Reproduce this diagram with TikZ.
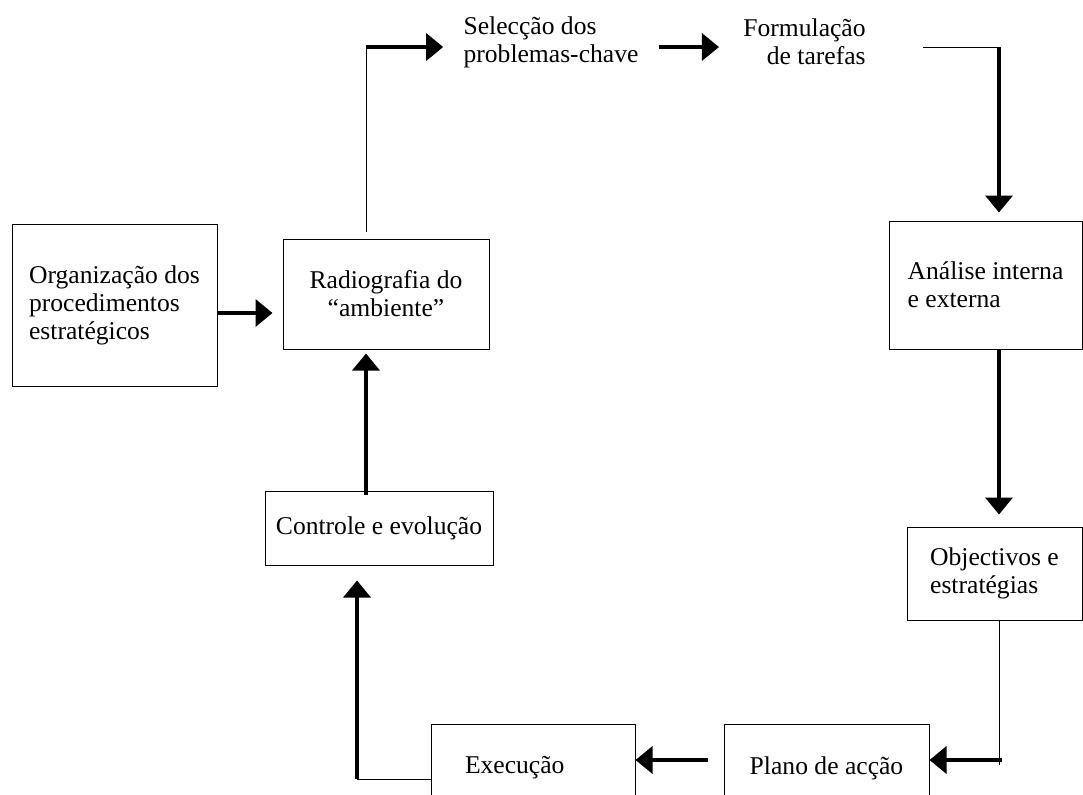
\documentclass[tikz,border=0pt]{standalone}
\usepackage{fontspec}
\setmainfont{Liberation Serif}
\usepackage{tikz}
\usetikzlibrary{arrows.meta}

\begin{document}
\begin{tikzpicture}[x=0.5pt,y=-0.5pt,
  every node/.style={font=\fontsize{12.8}{14}\selectfont},
  box/.style={draw,line width=0.5pt,inner sep=0pt,align=center},
  link/.style={line width=0.5pt},
  arr/.style={line width=1.8pt,-{Triangle[width=13.5pt,length=8.5pt]}}]
\useasboundingbox (0,0) rectangle (1083,794);
\clip (0,0) rectangle (1083,794);

% caixas
\node[box,align=left,minimum width=102.5pt,minimum height=81pt] (org) at (114.5,305) {Organização dos\\procedimentos\\estratégicos};
\node[box,minimum width=103pt,minimum height=55pt] (rad) at (386,294) {Radiografia do\\“ambiente”};
\node[box,align=left,minimum width=96.5pt,minimum height=64pt] (ana) at (985.5,285) {Análise interna\\e externa};
\node[box,align=left,minimum width=87.5pt,minimum height=46.5pt] (obj) at (994.5,573.5) {Objectivos e\\estratégias};
\node[box,minimum width=102.5pt,minimum height=44pt] (pla) at (826.5,768) {Plano de acção};
\node[box,align=left,text width=68pt,inner xsep=17pt,minimum height=44pt] (exe) at (533,768) {Execução};
\node[box,minimum width=114pt,minimum height=37pt] (con) at (379,528) {Controle e evolução};

% textos soltos
\node[align=left,inner xsep=10pt] (sel) at (551,42) {Selecção dos\\problemas-chave};
\node[align=right,inner xsep=12pt] (for) at (804.5,42) {Formulação\\de tarefas};

\coordinate (k1) at (366,47);
\coordinate (fte) at (923,47);
\coordinate (k2) at (999,47);
\coordinate (k3) at (999,760);
\coordinate (k4) at (357,779);

% ligacoes
\draw[arr,shorten >=5pt] ([yshift=-4pt]org.east) -- ([yshift=-4pt]org.east -| rad.west);
\draw[link] ([xshift=-10pt,yshift=3.5pt]rad.north) -- (k1);
\draw[arr] (k1) -- (k1 -| sel.west);
\draw[arr] (sel.east |- k1) -- (k1 -| for.west);
\draw[link] (fte) -- (k2);
\draw[arr,shorten >=4pt] (k2) -- (k2 |- ana.north);
\draw[arr,shorten >=6pt] (k2 |- ana.south) -- (k2 |- obj.north);
\draw[link] (k2 |- obj.south) -- ([yshift=-2.5pt]k3);
\draw[arr] ([xshift=1.5pt]k3) -- (k3 -| pla.east);
\draw[arr,shorten <=8pt] (k3 -| pla.west) -- (k3 -| exe.east);
\draw[link] (k4 -| exe.west) -- (k4);
\draw[arr,shorten >=7.5pt] (k4) -- (k4 |- con.south);
\draw[arr,shorten >=2pt] ([yshift=-2pt]k1 |- con.north) -- (k1 |- rad.south);
\end{tikzpicture}
\end{document}
